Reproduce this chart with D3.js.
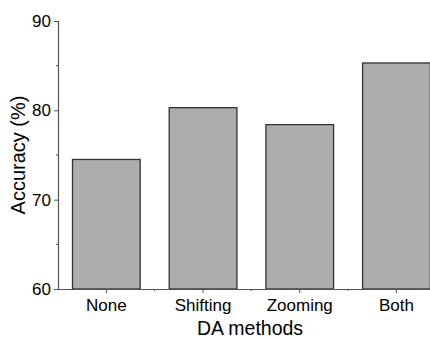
<!DOCTYPE html>
<html>
<head>
<meta charset="utf-8">
<script src="https://cdn.jsdelivr.net/npm/d3@7"></script>
<style>
  body { margin: 0; background: #fff; }
  svg { display: block; font-family: 'Liberation Sans', Arial, sans-serif; }
</style>
</head>
<body>
<svg width="430" height="339"></svg>
<script>
const methods = ['None', 'Shifting', 'Zooming', 'Both'];
const accuracy = [74.5, 80.3, 78.4, 85.3];
const yTicks = [60, 70, 80, 90];
const yMinorTicks = [65, 75, 85];

(function (d3) {
  'use strict';

  const svg = d3.select('svg');
  const data = methods.map((m, i) => ({ method: m, value: accuracy[i] }));

  const left = 58, top = 21, bottom = 289;
  const step = 96.7;

  const xScale = d3.scaleBand()
    .domain(methods)
    .range([left, left + step * methods.length])
    .paddingInner(0.3)
    .paddingOuter(0.15);

  const yScale = d3.scaleLinear()
    .domain([60, 90])
    .range([bottom, top]);

  const axisColor = '#555';

  // bars
  svg.append('g').selectAll('rect')
    .data(data)
    .enter().append('rect')
      .attr('x', d => xScale(d.method))
      .attr('y', d => yScale(d.value))
      .attr('width', xScale.bandwidth())
      .attr('height', d => yScale(60) - yScale(d.value))
      .attr('fill', '#adadad')
      .attr('stroke', '#333')
      .attr('stroke-width', 1.3);

  // y axis
  const yAxisG = svg.append('g')
    .attr('transform', `translate(${left},0)`)
    .call(d3.axisLeft(yScale).tickValues(yTicks).tickSize(4).tickPadding(3));
  yAxisG.select('.domain').attr('stroke', axisColor).attr('stroke-width', 1.2);
  yAxisG.selectAll('.tick line').attr('stroke', axisColor);
  yAxisG.selectAll('.tick text')
    .attr('font-size', '17px')
    .attr('fill', '#000');
  yAxisG.selectAll('.minor')
    .data(yMinorTicks)
    .enter().append('line')
      .attr('class', 'minor')
      .attr('x1', -2).attr('x2', 0)
      .attr('y1', d => yScale(d)).attr('y2', d => yScale(d))
      .attr('stroke', axisColor);

  // x axis
  const xAxisG = svg.append('g')
    .attr('transform', `translate(0,${bottom})`)
    .call(d3.axisBottom(xScale).tickSize(4).tickSizeOuter(0).tickPadding(6));
  xAxisG.select('.domain').attr('stroke', axisColor).attr('stroke-width', 1.2);
  xAxisG.selectAll('.tick line').attr('stroke', axisColor);
  xAxisG.selectAll('.tick text')
    .attr('font-size', '17px')
    .attr('fill', '#000');
  xAxisG.selectAll('.minor')
    .data(d3.range(1, methods.length + 1))
    .enter().append('line')
      .attr('class', 'minor')
      .attr('x1', i => left + i * xScale.step())
      .attr('x2', i => left + i * xScale.step())
      .attr('y1', 0).attr('y2', 2)
      .attr('stroke', axisColor);

  // axis labels
  svg.append('text')
    .attr('transform', `translate(25,${(top + bottom) / 2}) rotate(-90)`)
    .attr('text-anchor', 'middle')
    .attr('font-size', '20px')
    .attr('fill', '#000')
    .text('Accuracy (%)');

  svg.append('text')
    .attr('x', 250)
    .attr('y', 335)
    .attr('text-anchor', 'middle')
    .attr('font-size', '19.5px')
    .attr('fill', '#000')
    .text('DA methods');

}(d3));
</script>
</body>
</html>
